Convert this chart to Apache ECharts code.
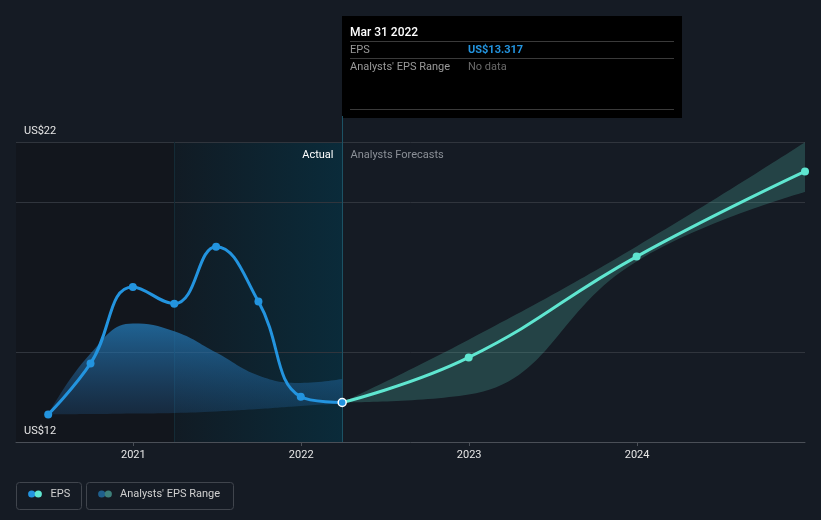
<!DOCTYPE html>
<html><head><meta charset="utf-8">
<script src="https://cdn.jsdelivr.net/npm/echarts@6/dist/echarts.min.js"></script>
<style>html,body{margin:0;padding:0;background:#151b24;}#c{width:821px;height:520px;}</style>
</head><body><div id="c"></div>
<script>
// ---- data ----
const actualDates = ['2020-06-30','2020-09-30','2020-12-31','2021-03-31','2021-06-30','2021-09-30','2021-12-31','2022-03-31'];
const actualEPS = [12.92, 14.62, 17.17, 16.61, 18.51, 16.68, 13.51, 13.317];
const histRangeLow = [12.92, 12.93, 12.95, 12.97, 13.02, 13.10, 13.20, 13.28];
const histRangeHigh = [12.92, 14.95, 15.95, 15.69, 14.98, 14.22, 13.97, 14.10];
const forecastDates = ['2022-03-31','2022-12-31','2023-12-31','2024-12-31'];
const forecastEPS = [13.317, 14.82, 18.18, 21.02];
const forecastLow = [13.317, 13.58, 18.02, 20.33];
const forecastHigh = [13.317, 15.41, 18.52, 21.99];
const yearTickYears = [2021, 2022, 2023, 2024];
const yLabelValues = [12, 22];
const gridValues = [15, 20, 22];
const xMin = '2020-04-21';
const xMax = '2024-12-31';
const splitDate = '2021-03-31';
const nowDate = '2022-03-31';

const chart = echarts.init(document.getElementById('c'), null, {renderer: 'canvas'});
const ts = s => { const [y, m, d] = s.split('-').map(Number); return +new Date(y, m - 1, d); };
// band data is stored as [value, time] so the value dimension is the stacked one
const pairSwap = (d, v) => d.map((x, i) => [v[i], ts(x)]);
const diffSwap = (d, hi, lo) => d.map((x, i) => [+(hi[i] - lo[i]).toFixed(4), ts(x)]);
const yearTicks = yearTickYears.map(y => +new Date(y, 0, 1));
const FONT = 'Roboto, "Noto Sans", sans-serif';
const BLUE = '#2394df', MINT = '#5fe6d0';
const SW = {x: 1, y: 0};

const lastIdx = actualEPS.length - 1;
const actualData = actualDates.map((d, i) => {
  const p = {value: [ts(d), actualEPS[i]]};
  if (i === lastIdx) p.itemStyle = {color: BLUE, borderColor: '#ffffff', borderWidth: 1.5};
  return p;
});

chart.setOption({
  backgroundColor: '#151b24',
  animation: false,
  grid: {left: 16, right: 16, top: 142, bottom: 78},
  xAxis: {
    type: 'value', min: ts(xMin), max: ts(xMax), z: 10,
    axisLine: {show: true, lineStyle: {color: '#4a4f57', width: 1}},
    axisTick: {show: true, customValues: yearTicks, length: 4, lineStyle: {color: '#4a4f57'}},
    axisLabel: {customValues: yearTicks, color: '#e6e6e6', fontSize: 11, fontFamily: FONT, margin: 8,
      formatter: v => String(new Date(v).getFullYear())},
    splitLine: {show: false}
  },
  yAxis: {
    type: 'value', min: 12, max: 22, z: 10,
    axisLine: {show: false}, axisTick: {show: false}, splitLine: {show: false},
    axisLabel: {customValues: yLabelValues, inside: true, margin: 8, color: '#e6e6e6', fontSize: 11, fontFamily: FONT,
      verticalAlign: 'bottom', padding: [0, 0, 5, 0], formatter: v => 'US$' + v}
  },
  series: [
    {
      name: 'histLow', type: 'line', stack: 'hist', smooth: 0.45, symbol: 'none', z: 2,
      encode: SW, lineStyle: {width: 0}, data: pairSwap(actualDates, histRangeLow),
      markArea: {
        silent: true, z: 1,
        data: [
          [{xAxis: ts(xMin), itemStyle: {color: '#12161d'}}, {xAxis: ts(splitDate)}],
          [{xAxis: ts(splitDate), itemStyle: {color: new echarts.graphic.LinearGradient(0, 0, 1, 0, [
              {offset: 0, color: '#111b24'}, {offset: 1, color: '#0a2b3a'}])}}, {xAxis: ts(nowDate)}]
        ]
      },
      markLine: {
        silent: true, symbol: 'none', label: {show: false}, z: 1,
        lineStyle: {color: '#30353d', width: 1, type: 'solid'},
        data: gridValues.map(v => ({yAxis: v}))
      }
    },
    {
      name: 'histRange', type: 'line', stack: 'hist', smooth: 0.45, symbol: 'none', z: 2,
      encode: SW, lineStyle: {width: 0},
      areaStyle: {opacity: 1, color: new echarts.graphic.LinearGradient(0, 0, 0, 1, [
        {offset: 0, color: 'rgba(35,120,180,0.78)'}, {offset: 1, color: 'rgba(35,100,160,0.25)'}])},
      data: diffSwap(actualDates, histRangeHigh, histRangeLow)
    },
    {
      name: 'fcLow', type: 'line', stack: 'fc', smooth: 0.45, symbol: 'none', z: 2,
      encode: SW, lineStyle: {width: 0}, data: pairSwap(forecastDates, forecastLow),
      markLine: {
        silent: true, symbol: 'none', label: {show: false}, z: 1,
        lineStyle: {width: 1, type: 'solid'},
        data: [
          {xAxis: ts(nowDate), lineStyle: {color: '#1c5264'}},
          {xAxis: ts(splitDate), lineStyle: {color: '#142b36'}}
        ]
      }
    },
    {
      name: 'fcRange', type: 'line', stack: 'fc', smooth: 0.45, symbol: 'none', z: 2,
      encode: SW, lineStyle: {width: 0},
      areaStyle: {opacity: 1, color: 'rgba(88,195,180,0.24)'},
      data: diffSwap(forecastDates, forecastHigh, forecastLow)
    },
    {
      name: 'EPS forecast', type: 'line', smooth: 0.45, z: 3,
      symbol: 'circle', symbolSize: 8, showSymbol: true,
      lineStyle: {color: MINT, width: 3}, itemStyle: {color: MINT},
      data: forecastDates.map((d, i) => i === 0 ? {value: [ts(d), forecastEPS[i]], symbol: 'none'} : [ts(d), forecastEPS[i]])
    },
    {
      name: 'EPS', type: 'line', smooth: 0.45, z: 4,
      symbol: 'circle', symbolSize: 8,
      lineStyle: {color: BLUE, width: 3}, itemStyle: {color: BLUE},
      data: actualData
    }
  ]
});

// annotations: tooltip-like box, labels, legend
const px = chart.convertToPixel({xAxisIndex: 0, yAxisIndex: 0}, [ts(nowDate), 22]);
const nx = Math.round(px[0]) + 0.5;
const topY = px[1];
const months = ['Jan','Feb','Mar','Apr','May','Jun','Jul','Aug','Sep','Oct','Nov','Dec'];
const nd = new Date(ts(nowDate));
const dateLabel = months[nd.getMonth()] + ' ' + nd.getDate() + ' ' + nd.getFullYear();
const txt = (x, y, s, color, size, weight, align) => ({
  type: 'text', x, y, silent: true, z: 100,
  style: {text: s, fill: color, fontSize: size, fontFamily: FONT, fontWeight: weight || 'normal',
    align: align || 'left', verticalAlign: 'middle'}
});
const hline = (x1, x2, y, c) => ({type: 'line', silent: true, z: 100, shape: {x1, y1: y, x2, y2: y}, style: {stroke: c, lineWidth: 1}});
const boxX = nx - 0.5, boxY = 16;

chart.setOption({
  graphic: [
    {type: 'line', silent: true, z: 100, shape: {x1: nx, y1: boxY + 100, x2: nx, y2: topY}, style: {stroke: '#1c5264', lineWidth: 1}},
    {type: 'rect', silent: true, z: 99, shape: {x: boxX, y: boxY, width: 340, height: 102}, style: {fill: '#000000'}},
    txt(boxX + 8, 32.5, dateLabel, '#ffffff', 12, 500),
    hline(boxX + 8, boxX + 332, 41.5, '#3a3a3a'),
    txt(boxX + 8, 50.5, 'EPS', '#9a9a9a', 11),
    txt(boxX + 126, 50.5, 'US$' + actualEPS[lastIdx].toFixed(3), BLUE, 11, 'bold'),
    hline(boxX + 8, boxX + 332, 58.5, '#3a3a3a'),
    txt(boxX + 8, 67.5, "Analysts' EPS Range", '#9a9a9a', 11),
    txt(boxX + 126, 67.5, 'No data', '#6a6a6a', 11),
    hline(boxX + 8, boxX + 332, 109.5, '#3a3a3a'),
    txt(nx - 9, 155, 'Actual', '#ffffff', 11, 'normal', 'right'),
    txt(nx + 8, 155, 'Analysts Forecasts', '#8b9097', 11),
    // legend
    {type: 'rect', silent: true, z: 100, shape: {x: 16.5, y: 482.5, width: 65, height: 27, r: 3}, style: {fill: 'none', stroke: '#40454d', lineWidth: 1}},
    {type: 'circle', silent: true, z: 100, shape: {cx: 31.7, cy: 494, r: 3.6}, style: {fill: BLUE}},
    {type: 'circle', silent: true, z: 100, shape: {cx: 38.3, cy: 494, r: 3.6}, style: {fill: MINT}},
    txt(50.5, 494.5, 'EPS', '#d0d0d0', 11),
    {type: 'rect', silent: true, z: 100, shape: {x: 86.5, y: 482.5, width: 147, height: 27, r: 3}, style: {fill: 'none', stroke: '#40454d', lineWidth: 1}},
    {type: 'circle', silent: true, z: 100, shape: {cx: 101.7, cy: 494, r: 3.6}, style: {fill: '#1f5f8c'}},
    {type: 'circle', silent: true, z: 100, shape: {cx: 108.3, cy: 494, r: 3.6}, style: {fill: '#3d7f7a'}},
    txt(120, 494.5, "Analysts' EPS Range", '#d0d0d0', 11)
  ]
});
</script>
</body></html>
